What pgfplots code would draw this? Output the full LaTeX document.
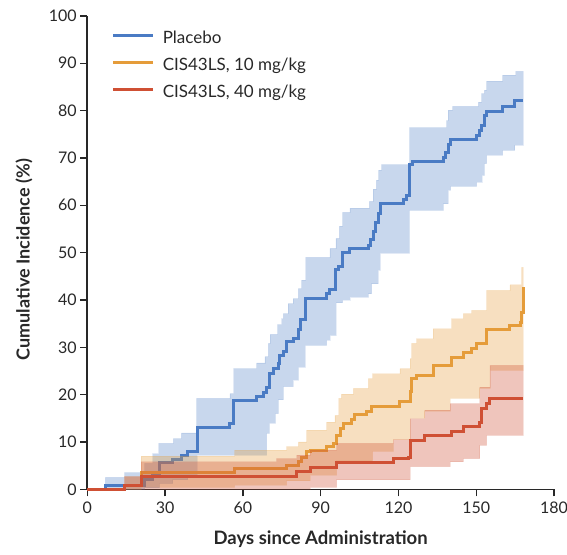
\documentclass[border=0pt]{standalone}
\usepackage{pgfplots}
\pgfplotsset{compat=1.18}
\usepackage{fontspec}
\setmainfont{Lato}

\definecolor{cblue}{RGB}{74,123,196}
\definecolor{corange}{RGB}{229,156,58}
\definecolor{cred}{RGB}{207,80,52}
\definecolor{txt}{RGB}{40,40,40}

\begin{document}
\begin{tikzpicture}
\begin{axis}[
  scale only axis, width=466.7pt, height=473.4pt,
  xmin=0, xmax=180, ymin=0, ymax=100,
  clip=false,
  axis x line*=bottom, axis y line*=left,
  xtick={0,30,...,180}, ytick={0,10,...,100},
  tick align=outside, major tick length=7pt,
  axis line style={line width=1.6pt, color=txt},
  tick style={line width=1.4pt, color=txt},
  ticklabel style={font=\fontsize{16}{19}\selectfont, text=txt},
  xticklabel style={yshift=-2pt},
  /pgf/number format/assume math mode=true,
  xlabel={Days since Administration},
  ylabel={Cumulative Incidence (\%)},
  label style={font=\fontsize{18.5}{22}\selectfont\bfseries, text=txt},
  xlabel style={at={(axis description cs:0.5,-0.1160)}, anchor=base},
  ylabel style={at={(axis description cs:-0.1357,0.485)}, anchor=center, font=\fontsize{18}{22}\selectfont\bfseries},
  legend style={draw=none, fill=none, at={(axis description cs:0.052,0.970)}, anchor=north west,
    font=\fontsize{17}{20}\selectfont, row sep=11pt, inner sep=0pt,
    nodes={inner sep=1pt, text=txt},
    /tikz/every odd column/.append style={column sep=7pt}},
  legend cell align=left,
  legend image code/.code={\draw[#1, line width=3pt] (0pt,3pt) -- (40pt,3pt);},
]
% ---------- Placebo band ----------
\addplot[fill=cblue, fill opacity=0.3, draw=cblue, draw opacity=0.12, line width=0.8pt, forget plot] coordinates {
(0,0)(7,0)(7,2.5)(14.4,2.5)(14.4,3.5)(22.1,3.5)(22.1,5.5)(25.3,5.5)(25.3,7.5)(27.6,7.5)(27.6,9.7)(33.2,9.7)(33.2,10.7)(36.3,10.7)(36.3,11.9)(42.2,11.9)(42.2,19.2)(55,19.2)(55,20.2)(56.5,20.2)(56.5,25.5)(65.3,25.5)(65.3,26.7)(68.5,26.7)(68.5,28)(69.8,28)(69.8,30.8)(70.5,30.8)(70.5,32.7)(73.4,32.7)(73.4,34.8)(75,34.8)(75,36)(75.6,36)(75.6,37.1)(77.5,37.1)(77.5,39.2)(79.4,39.2)(79.4,40.3)(81.4,40.3)(81.4,42.4)(82.7,42.4)(82.7,44.2)(84.3,44.2)(84.3,49)(93.6,49)(93.6,50.9)(95.9,50.9)(95.9,53)(97.2,53)(97.2,55.6)(98.5,55.6)(98.5,58.5)(101.3,58.5)(101.3,59.4)(108.8,59.4)(108.8,60.8)(110.2,60.8)(110.2,63.4)(111.5,63.4)(111.5,65.3)(112.4,65.3)(112.4,67.4)(113.5,67.4)(113.5,68.6)(124.3,68.6)(124.3,76.4)(138.6,76.4)(138.6,77.9)(139.2,77.9)(139.2,80.1)(140.9,80.1)(140.9,80.9)(150.8,80.9)(150.8,81.8)(152.1,81.8)(152.1,83.6)(153.1,83.6)(153.1,84.3)(154,84.3)(154,86.2)(160.2,86.2)(160.2,87.5)(165.3,87.5)(165.3,88.3)(168.1,88.3)
(168.1,72.7)(164.9,72.7)(164.9,71.6)(160.2,71.6)(160.2,70.6)(154,70.6)(154,68.8)(153.1,68.8)(153.1,66.3)(152.2,66.3)(152.2,64.9)(150.2,64.9)(150.2,64)(140.1,64)(140.1,63.2)(139.2,63.2)(139.2,60.3)(137.3,60.3)(137.3,58.9)(124.2,58.9)(124.2,49.9)(112.9,49.9)(112.9,46.3)(112.2,46.3)(112.2,43.4)(109.7,43.4)(109.7,41.3)(108.4,41.3)(108.4,40.6)(101.3,40.6)(101.3,40)(98.5,40)(98.5,39.4)(95.9,39.4)(95.9,32.5)(93.6,32.5)(93.6,31.5)(92.3,31.5)(92.3,30.4)(84,30.4)(84,25.8)(81.4,25.8)(81.4,23.1)(79.4,23.1)(79.4,21.7)(75.6,21.7)(75.6,18.9)(73.7,18.9)(73.7,16)(72.5,16)(72.5,14)(70.2,14)(70.2,11.8)(69.2,11.8)(69.2,7.2)(42.4,7.2)(42.4,3)(38.8,3)(38.8,2)(33,2)(33,1.2)(27.9,1.2)(27.9,0.3)(22.1,0.3)(22.1,0)(0,0)} -- cycle;
\addplot[cblue, line width=3pt, const plot] coordinates {
(0,0)(7.0,0.8)(22.1,2.0)(25.3,3.2)(27.9,5.6)(33.0,6.3)(36.3,7.2)(38.8,8.0)(42.4,13.1)(54.9,13.9)(56.5,18.8)(65.3,19.6)(67.9,20.4)(69.2,21.5)(70.2,24.4)(71.7,25.5)(73.7,26.6)(74.3,28.3)(75.6,29.1)(76.9,31.2)(79.4,31.9)(81.4,33.8)(82.4,35.8)(84.2,40.4)(92.1,41.4)(93.6,42.3)(95.9,46.5)(96.8,47.0)(98.5,50.0)(101.3,50.8)(108.4,51.6)(109.3,52.7)(110.3,54.5)(111.3,56.4)(112.2,58.3)(113.2,60.3)(122.1,61.3)(123.2,62.0)(124.2,68.7)(125.5,69.2)(137.3,70.1)(138.2,71.2)(139.2,72.9)(140.1,73.8)(150.2,74.7)(151.2,75.7)(152.2,76.8)(153.1,78.9)(154.0,79.7)(160.2,80.8)(164.9,82.1)(168.1,82.1)};
\addlegendentry{Placebo}
% ---------- 10 mg/kg band ----------
\addplot[fill=corange, fill opacity=0.32, draw=corange, draw opacity=0.12, line width=0.8pt, forget plot] coordinates {
(0,0)(14.4,0)(14.4,2.7)(20.8,2.7)(20.8,7)(56.8,7)(56.8,8.3)(76.9,8.3)(76.9,9)(81.4,9)(81.4,10)(84.6,10)(84.6,12.5)(92.3,12.5)(92.3,14.2)(95.5,14.2)(95.5,15.6)(97,15.6)(97,19.2)(98,19.2)(98,20.1)(102.6,20.1)(102.6,21.3)(108.4,21.3)(108.4,23.4)(110,23.4)(110,24.4)(120.6,24.4)(120.6,25.5)(124.5,25.5)(124.5,27.6)(125.1,27.6)(125.1,30.8)(127,30.8)(127,31.8)(133.4,31.8)(133.4,33.9)(140.5,33.9)(140.5,36)(145,36)(145,37.1)(148.2,37.1)(148.2,37.8)(154,37.8)(154,42)(163,42)(163,43.2)(167.5,43.2)(167.5,46.9)(168.1,46.9)
(168.1,25.1)(155.3,25.1)(155.3,21.3)(151.4,21.3)(151.4,19.2)(139.9,19.2)(139.9,16.5)(130.2,16.5)(130.2,15)(124.5,15)(124.5,10.5)(118,10.5)(118,8)(110,8)(110,6)(96.2,6)(96.2,3)(85.9,3)(85.9,1.8)(76.9,1.8)(76.9,0.9)(56.8,0.9)(56.8,0.4)(20.8,0.4)(20.8,0)(0,0)} -- cycle;
\addplot[corange, line width=3pt, const plot] coordinates {
(0,0)(14.4,0.9)(20.8,3.6)(56.8,4.4)(76.9,5.1)(81.4,5.8)(82.7,6.8)(84.6,7.9)(85.9,8.3)(92.3,9.0)(94.9,9.7)(96.2,11.4)(97.5,12.9)(98.7,14.0)(102.0,14.8)(103.2,15.8)(107.7,16.5)(109.7,17.4)(120.6,18.5)(124.5,20.6)(125.1,23.4)(127.0,24.1)(133.4,26.2)(140.5,27.9)(145.0,29.0)(148.2,29.7)(150.2,30.8)(154.0,33.7)(163.0,34.6)(166.9,35.3)(167.5,37.4)(168.1,42.7)};
\addlegendentry{CIS43LS, 10 mg/kg}
% ---------- 40 mg/kg band ----------
\addplot[fill=cred, fill opacity=0.33, draw=cred, draw opacity=0.12, line width=0.8pt, forget plot] coordinates {
(0,0)(14.4,0)(14.4,2.7)(20.8,2.7)(20.8,5.8)(73,5.8)(73,6.5)(80.8,6.5)(80.8,7.2)(85.9,7.2)(85.9,8.3)(96.2,8.3)(96.2,9.7)(118,9.7)(118,10.5)(124.5,10.5)(124.5,14.9)(130.2,14.9)(130.2,16.7)(139.9,16.7)(139.9,18.1)(151.4,18.1)(151.4,21.6)(155.3,21.6)(155.3,26.2)(168.1,26.2)
(168.1,11.4)(154,11.4)(154,9.3)(151.4,9.3)(151.4,6.5)(145,6.5)(145,5.8)(139.9,5.8)(139.9,4.8)(124.5,4.8)(124.5,2)(96.2,2)(96.2,0.4)(85.9,0.4)(85.9,0)(0,0)} -- cycle;
\addplot[cred, line width=3pt, const plot] coordinates {
(0,0)(14.4,0.9)(20.8,2.8)(80.8,3.7)(85.9,4.6)(96.2,5.6)(118.0,6.5)(123.8,6.8)(124.5,10.3)(130.2,11.4)(140.5,12.3)(145.0,13.3)(151.4,14.2)(152.1,17.0)(153.8,18.1)(155.3,19.2)(168.1,19.2)};
\addlegendentry{CIS43LS, 40 mg/kg}
\end{axis}
\pgfresetboundingbox
\useasboundingbox (-87.3pt,-64.7pt) rectangle (479.7pt,489.3pt);
\end{tikzpicture}
\end{document}
